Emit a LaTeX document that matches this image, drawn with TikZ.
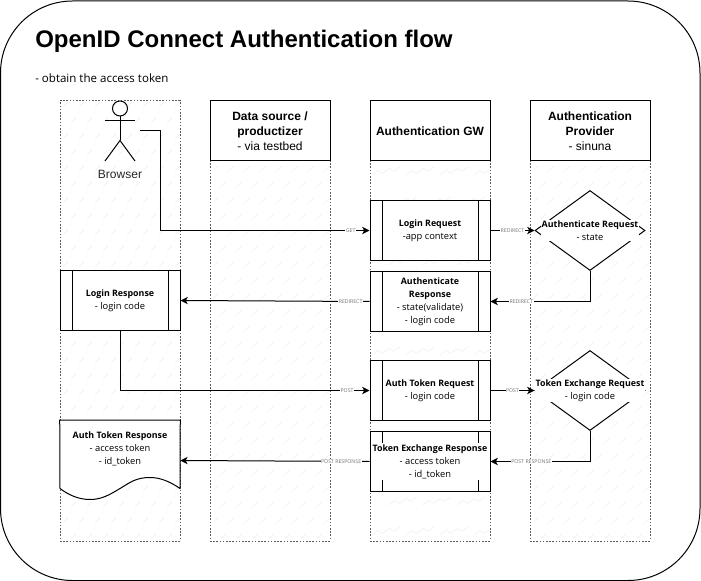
\documentclass[tikz,border=0pt]{standalone}
\usepackage{fontspec}
\setmainfont{Open Sans}
\newfontfamily\headfont{Liberation Sans}
\newcommand{\boxhead}[1]{{\fontsize{6.65}{9.75}\selectfont\bfseries #1}}
\usetikzlibrary{positioning, arrows.meta, shapes.geometric}

\begin{document}
\begin{tikzpicture}[
    x=0.75pt, y=-0.75pt,
    node distance=30pt,
    hatchline/.style={gray!14, line width=0.4pt},
    lane/.style={
        draw=black!65,
        line width=0.5pt,
        dash pattern=on 1.2pt off 1.2pt,
        minimum width=90pt,
        minimum height=330pt,
        anchor=north,
        path picture={
            \foreach \row in {0,...,27}
                \foreach \col in {0,...,7}
                    \draw[hatchline, solid] (path picture bounding box.north west)
                        ++({\col*16+3+8*mod(\row,2)}, {\row*16+6}) -- ++(5,-5);
        }
    },
    wavylane/.style={
        draw=black!65,
        line width=0.5pt,
        dash pattern=on 1.2pt off 1.2pt,
        minimum width=90pt,
        minimum height=330pt,
        anchor=north,
        path picture={
            \foreach \row in {0,...,14}
                \foreach \col in {0,...,3}
                    \draw[gray!12, line width=0.5pt, solid, rounded corners=1pt] (path picture bounding box.north west)
                        ++({\col*34+2+17*mod(\row,2)}, {\row*30+14}) -- ++(7,-5) -- ++(3,4) -- ++(8,-6) -- ++(3,4) -- ++(7,-5);
        }
    },
    laneheader/.style={
        draw,
        fill=white,
        line width=0.75pt,
        minimum width=90pt,
        minimum height=45pt,
        align=center,
        inner sep=1pt,
        font=\headfont\fontsize{9}{11.2}\selectfont
    },
    procbox/.style={
        draw,
        fill=white,
        line width=0.75pt,
        minimum width=90pt,
        minimum height=45pt,
        align=center,
        inner sep=0pt,
        font=\fontsize{7}{9.75}\selectfont,
        path picture={
            \draw[line width=0.75pt] ([xshift=9pt]path picture bounding box.north west) -- ([xshift=9pt]path picture bounding box.south west);
            \draw[line width=0.75pt] ([xshift=-9pt]path picture bounding box.north east) -- ([xshift=-9pt]path picture bounding box.south east);
        }
    },
    decision/.style={
        draw,
        fill=white,
        diamond,
        aspect=1.375,
        line width=0.75pt,
        inner sep=0pt,
        minimum width=82.5pt,
        minimum height=60pt
    },
    boxtext/.style={
        fill=white,
        align=center,
        inner sep=0.5pt,
        font=\fontsize{7}{9.75}\selectfont
    },
    arrow/.style={-{Stealth[length=5.5pt, width=5.5pt, inset=1.5pt]}, line width=0.75pt},
    edgetag/.style={
        fill=white,
        text=black!55,
        inner sep=0.3pt,
        font=\fontsize{3.9}{4.5}\selectfont
    }
]

\useasboundingbox (0,-0.5) rectangle (701,580.5);
\draw[line width=0.75pt, rounded corners=54pt] (0.5,0.5) rectangle (700,580);

\node[anchor=west, inner sep=0pt, font=\headfont\bfseries\fontsize{18}{22}\selectfont] (title) at (35,41) {OpenID Connect Authentication flow};
\node[anchor=west, inner sep=0pt, font=\fontsize{8.65}{10}\selectfont] (subtitle) at (35,77.5) {- obtain the access token};

% swimlanes
\node[lane] (browserlane) at (120,100) {};
\node[lane] (sourcelane) at (270,100) {};
\node[wavylane] (gwlane) at (430,100) {};
\node[lane] (providerlane) at (590,100) {};

\node[laneheader, anchor=north] (sourcehead) at (sourcelane.north) {\textbf{Data source /}\\\textbf{productizer}\\- via testbed};
\node[laneheader, anchor=north] (gwhead) at (gwlane.north) {\textbf{Authentication GW}};
\node[laneheader, anchor=north] (providerhead) at (providerlane.north) {\textbf{Authentication}\\\textbf{Provider}\\- sinuna};

% actor
\coordinate (browserout) at (140,130);
\node[circle, draw, line width=0.75pt, minimum size=11.25pt, inner sep=0pt] (head) at (120,108) {};
\coordinate (hip) at (120,140);
\coordinate (lefthand) at (105,120);
\coordinate (righthand) at (135,120);
\coordinate (leftfoot) at (105,160.5);
\coordinate (rightfoot) at (135,160.5);
\draw[line width=0.75pt] (head) -- (hip);
\draw[line width=0.75pt] (lefthand) -- (righthand);
\draw[line width=0.75pt] (leftfoot) -- (hip) -- (rightfoot);
\node[font=\headfont\fontsize{9}{11}\selectfont, text=black!85, inner sep=0pt] (browser) at (120,173.5) {Browser};

% gateway column
\node[procbox] (loginreq) at (430,230) {\boxhead{Login Request}\\-app context};
\node[procbox, below=7.5pt of loginreq] (authresp) {\boxhead{Authenticate}\\\boxhead{Response}\\- state(validate)\\- login code};
\node[procbox] (tokenreq) at (430,390) {\boxhead{Auth Token Request}\\- login code};
\node[procbox, below=7.5pt of tokenreq] (exchresp) {};
\node[boxtext, inner sep=0pt, minimum height=28pt, minimum width=87pt] (exchresptext) at (exchresp.center) {\boxhead{Token Exchange Response}\\- access token\\- id\_token};

% provider column
\node[decision] (authcheck) at (590,230) {};
\node[boxtext] (authchecktext) at (590,230) {\boxhead{Authenticate Request}\\- state};
\node[decision] (exchcheck) at (590,390) {};
\node[boxtext] (exchchecktext) at (590,390) {\boxhead{Token Exchange Request}\\- login code};

% browser column
\node[procbox] (loginresp) at (120,300) {\boxhead{Login Response}\\- login code};
\node[minimum width=90pt, minimum height=60pt, inner sep=0pt] (tokenresp) at (120,460) {};
\draw[fill=white, line width=0.75pt] (tokenresp.north west) -- (tokenresp.north east) -- (180,488)
    .. controls (170,481) and (160,477) .. (150,477)
    .. controls (136,477) and (130,482) .. (120,488)
    .. controls (110,494) and (102,499) .. (90,499)
    .. controls (78,499) and (68,494) .. (60,488) -- cycle;
\node[align=center, inner sep=0pt, font=\fontsize{7}{9.75}\selectfont] (tokenresptext) at (120,448) {\boxhead{Auth Token Response}\\- access token\\- id\_token};

% flows
\draw[arrow] (browserout) -- ++(20,0) |- node[edgetag, pos=0.955] (getlabel) {GET} (loginreq.west);
\draw[arrow] (loginreq.east) -- node[edgetag, pos=0.5] {REDIRECT} (authcheck.west);
\draw[arrow] (authcheck.south) |- node[edgetag, pos=0.845] {REDIRECT} (authresp.east);
\draw[arrow] (authresp.west) -- node[edgetag, pos=0.1] {REDIRECT} (loginresp.east);
\draw[arrow] (loginresp.south) |- node[edgetag, pos=0.955] {POST} (tokenreq.west);
\draw[arrow] (tokenreq.east) -- node[edgetag, pos=0.5] {POST} (exchcheck.west);
\draw[arrow] (exchcheck.south) |- node[edgetag, pos=0.795] {POST RESPONSE} (exchresp.east);
\draw[arrow] (exchresp.west) -- node[edgetag, pos=0.15] {POST RESPONSE} (tokenresp.east);

\end{tikzpicture}
\end{document}
